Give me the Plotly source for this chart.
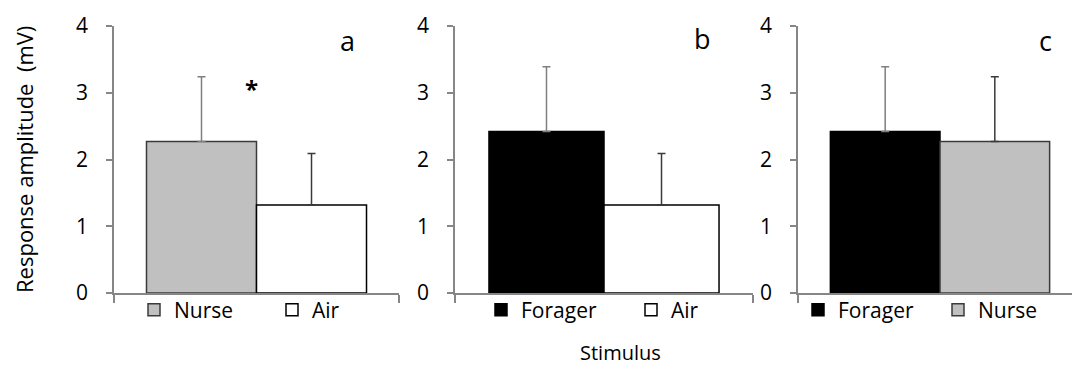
import plotly.graph_objects as go

# ---------------- data ----------------
panel_letters = ["a", "b", "c"]
a_stimuli = ["Nurse", "Air"]
a_means = [2.27, 1.32]
a_se = [0.97, 0.77]
b_stimuli = ["Forager", "Air"]
b_means = [2.42, 1.32]
b_se = [0.97, 0.77]
c_stimuli = ["Forager", "Nurse"]
c_means = [2.42, 2.27]
c_se = [0.97, 0.97]
significance = ["*", "", ""]
y_tick_values = [0, 1, 2, 3, 4]
y_title = "Response amplitude  (mV)"
x_title = "Stimulus"

# ---------------- styles / layout ----------------
W, H = 1072, 367
FONT = "Open Sans"
fill = {"Nurse": "#c0c0c0", "Air": "#ffffff", "Forager": "#000000"}
edge = {"Nurse": "#3a3a3a", "Air": "#000000", "Forager": "#000000"}
err_color = ["#7f7f7f", "#3a3a3a"]
axis_gray = "#868686"

# pixel placement of each panel's plotting area
panel_px = [(114, 399), (455, 753), (798, 1082)]
y0_px, y4_px = 293, 26
bar_w = 0.386
letter_dx = [0.321, 0.332, 0.373]
letter_py = [40, 38, 40]
legend_px = [134, 481, 798]
legend_entry = [93, 105, 95]

panels = [
    (a_stimuli, a_means, a_se),
    (b_stimuli, b_means, b_se),
    (c_stimuli, c_means, c_se),
]

fig = go.Figure()
annotations = []
unit_px = (y0_px - y4_px) / 4.0

for p, (stims, means, ses) in enumerate(panels):
    n = p + 1
    xa = "x" if n == 1 else f"x{n}"
    ya = "y" if n == 1 else f"y{n}"
    leg = "legend" if n == 1 else f"legend{n}"
    for i, (s, m, e) in enumerate(zip(stims, means, ses)):
        fig.add_trace(go.Bar(
            x=[0], y=[m], name=s,
            width=[bar_w], offset=[-bar_w if i == 0 else 0],
            marker=dict(color=fill[s], line=dict(color=edge[s], width=1.5)),
            error_y=dict(type="data", array=[e], arrayminus=[0], symmetric=False,
                         color=err_color[i], thickness=1.5, width=4),
            xaxis=xa, yaxis=ya, legend=leg, showlegend=True,
        ))
    x0, x1 = panel_px[p]
    xend = min(x1, W)
    dom = [x0 / W, xend / W]
    rng = [-0.5, -0.5 + (xend - x0) / (x1 - x0)]
    xkey = "xaxis" if n == 1 else f"xaxis{n}"
    ykey = "yaxis" if n == 1 else f"yaxis{n}"
    fig.layout[xkey] = dict(
        domain=dom, range=rng, anchor=ya, showgrid=False, zeroline=False,
        showline=True, linecolor=axis_gray, linewidth=1.5,
        tickvals=[-0.5, 0.5], ticks="outside", ticklen=8, tickwidth=1.5,
        tickcolor=axis_gray, showticklabels=False, fixedrange=True,
        automargin=False,
    )
    fig.layout[ykey] = dict(
        domain=[(H - y0_px) / H, (H - y4_px) / H], range=[0, 4], anchor=xa,
        tickvals=y_tick_values, showgrid=False, zeroline=False,
        showline=True, linecolor=axis_gray, linewidth=1.5,
        ticks="outside", ticklen=6, tickwidth=1.5, tickcolor=axis_gray,
        ticklabelstandoff=14, automargin=False,
        tickfont=dict(family=FONT, size=21, color="#000000"),
    )
    # panel letter
    annotations.append(dict(
        text=panel_letters[p], xref=xa, yref=ya,
        x=letter_dx[p], y=(y0_px - letter_py[p]) / unit_px,
        showarrow=False, xanchor="center", yanchor="middle",
        font=dict(family=FONT, size=27, color="#000000"),
    ))
    if significance[p]:
        annotations.append(dict(
            text="<b>" + significance[p] + "</b>", xref=xa, yref=ya,
            x=-0.016, y=3.07, showarrow=False, xanchor="center", yanchor="middle",
            font=dict(family=FONT, size=24, color="#000000"),
        ))
    # legend
    lkey = "legend" if n == 1 else f"legend{n}"
    fig.layout[lkey] = dict(
        orientation="h", x=legend_px[p] / W, xanchor="left",
        y=(H - 310) / H, yanchor="middle", bgcolor="rgba(0,0,0,0)",
        entrywidth=legend_entry[p], entrywidthmode="pixels",
        font=dict(family=FONT, size=21, color="#000000"),
        traceorder="normal", itemclick=False, itemdoubleclick=False,
    )

annotations.append(dict(
    text=y_title, xref="paper", yref="paper", x=24 / W, y=(H - 160) / H,
    textangle=-90, showarrow=False, xanchor="center", yanchor="middle",
    font=dict(family=FONT, size=22, color="#000000"),
))
annotations.append(dict(
    text=x_title, xref="paper", yref="paper", x=620 / W, y=(H - 352) / H,
    showarrow=False, xanchor="center", yanchor="middle",
    font=dict(family=FONT, size=20, color="#000000"),
))

fig.update_layout(
    width=W, height=H,
    margin=dict(l=0, r=0, t=0, b=0, pad=0, autoexpand=False),
    paper_bgcolor="#ffffff", plot_bgcolor="#ffffff",
    barmode="overlay", annotations=annotations,
    font=dict(family=FONT, color="#000000"),
)

fig.write_html("out.html")
